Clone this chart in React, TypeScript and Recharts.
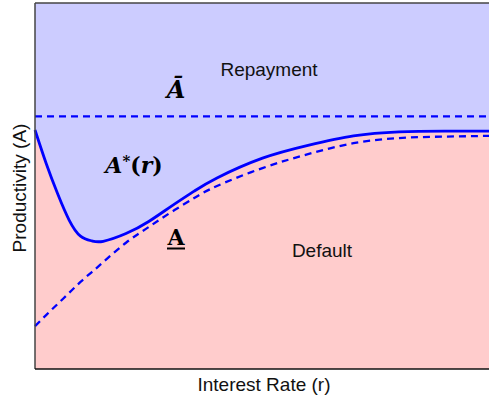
import React from 'react';
import {
  ComposedChart,
  Area,
  Line,
  XAxis,
  YAxis,
  CartesianGrid,
  ReferenceLine,
} from 'recharts';

// Interest rate grid (r)
const rates = [0, 0.25, 0.5, 0.75, 1, 1.25, 1.5, 2, 2.5, 3, 3.5, 4, 5, 6, 7, 8, 9, 10];
// Repayment threshold A*(r)
const thresholdA = [6.53, 5.6, 4.78, 4.07, 3.63, 3.5, 3.49, 3.7, 4.03, 4.45, 4.86, 5.22, 5.76, 6.11, 6.37, 6.48, 6.5, 6.5];
// Lower bound A(r)
const lowerA = [1.17, 1.48, 1.78, 2.08, 2.38, 2.65, 2.92, 3.45, 3.88, 4.29, 4.67, 5.0, 5.49, 5.87, 6.17, 6.31, 6.35, 6.37];
// Upper bound Ā
const upperA = 6.9;

const data = rates.map((r, i) => ({ r, solid: thresholdA[i], lower: lowerA[i] }));

const BLUE = '#0000ff';
const sans = '"Liberation Sans", Arial, sans-serif';
const serif = '"DejaVu Serif", "Liberation Serif", serif';

// Text layer drawn over the plot so labels sit above the filled regions
function Annotations() {
  return (
    <svg
      width={489}
      height={398}
      style={{ position: 'absolute', left: 0, top: 0, pointerEvents: 'none' }}
    >
      <text x={269} y={76} textAnchor="middle" fontFamily={sans} fontSize={19} fill="#111">Repayment</text>
      <text x={322} y={257} textAnchor="middle" fontFamily={sans} fontSize={19} fill="#111">Default</text>
      <text x={264} y={391} textAnchor="middle" fontFamily={sans} fontSize={19} fill="#111">Interest Rate (r)</text>
      <text x={26} y={188} textAnchor="middle" fontFamily={sans} fontSize={19} fill="#111" transform="rotate(-90, 26, 188)">Productivity (A)</text>
      <text x={176} y={98} textAnchor="middle" fontFamily={serif} fontSize={24} fontStyle="italic" fontWeight="bold" fill="#000">Ā</text>
      <text x={134} y={173} textAnchor="middle" fontFamily={serif} fontSize={22} fontWeight="bold" fill="#000">
        <tspan fontStyle="italic">A</tspan>
        <tspan dy={-7} fontSize={15}>*</tspan>
        <tspan dy={7}>(</tspan>
        <tspan fontStyle="italic">r</tspan>
        <tspan>)</tspan>
      </text>
      <text x={176} y={245} textAnchor="middle" fontFamily={serif} fontSize={22} fontWeight="bold" fill="#000">A</text>
      <line x1={167} x2={185} y1={248.5} y2={248.5} stroke="#000" strokeWidth={2} />
    </svg>
  );
}

export default function App() {
  return (
    <div style={{ position: 'absolute', left: 0, top: 0, width: 489, height: 398, overflow: 'hidden', background: '#fff' }}>
      <ComposedChart
        width={500}
        height={398}
        data={data}
        margin={{ top: 3, right: 10, bottom: 29, left: 35 }}
      >
        <CartesianGrid horizontal={false} vertical={false} fill="#ccccff" fillOpacity={1} />
        <XAxis dataKey="r" type="number" domain={[0, 10]} hide />
        <YAxis type="number" domain={[0, 10]} hide />
        <Area
          type="natural"
          dataKey="solid"
          stroke={BLUE}
          strokeWidth={2.8}
          fill="#ffcccc"
          fillOpacity={1}
          isAnimationActive={false}
          dot={false}
          activeDot={false}
        />
        <Line
          type="natural"
          dataKey="lower"
          stroke={BLUE}
          strokeWidth={2.3}
          strokeDasharray="7 5"
          dot={false}
          activeDot={false}
          isAnimationActive={false}
        />
        <ReferenceLine y={upperA} stroke={BLUE} strokeWidth={2.3} strokeDasharray="7 5" />
        <ReferenceLine y={10} stroke="#444" strokeWidth={1.5} />
        <ReferenceLine x={0} stroke="#444" strokeWidth={1.5} />
        <ReferenceLine y={0} stroke="#111" strokeWidth={1.5} />
      </ComposedChart>
      <Annotations />
    </div>
  );
}
